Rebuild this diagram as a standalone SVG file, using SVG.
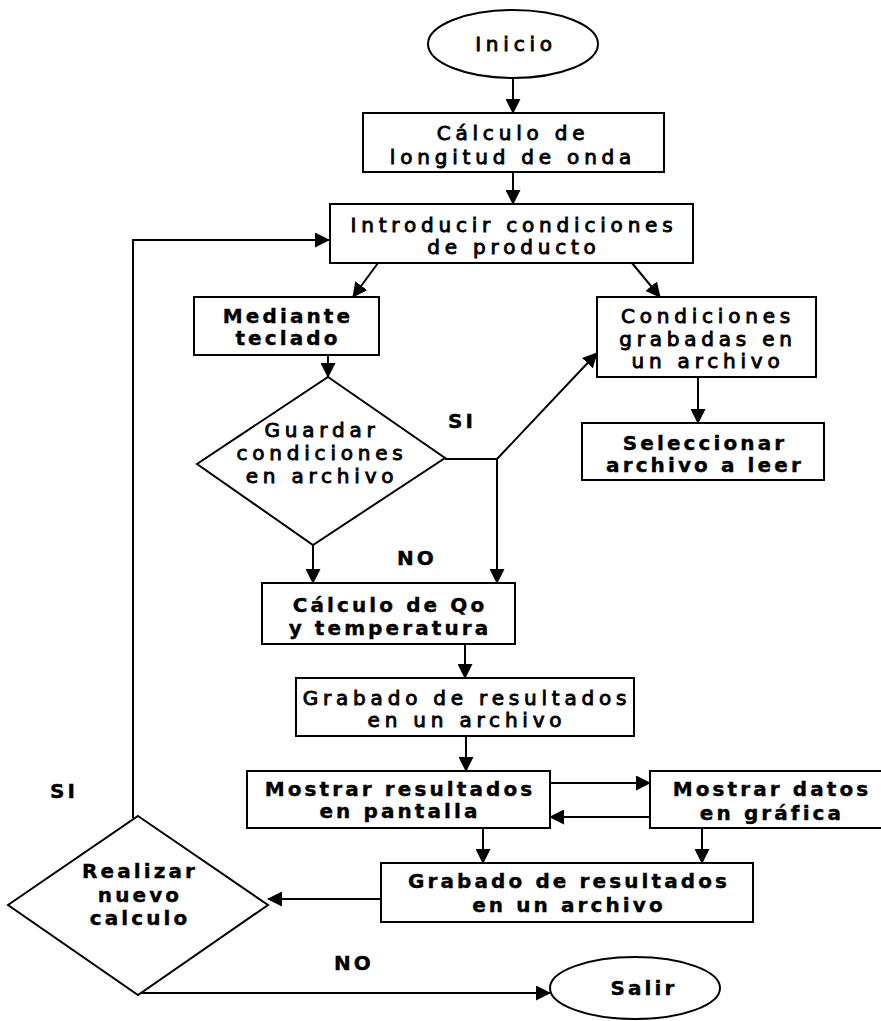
<svg xmlns="http://www.w3.org/2000/svg" width="881" height="1021" viewBox="0 0 881 1021">
  <style>
    .shape { fill: #fff; stroke: #000; stroke-width: 2; }
    .line { fill: none; stroke: #000; stroke-width: 2; }
    text { font-family: "DejaVu Sans", Verdana, sans-serif; font-size: 20px; fill: #000; text-anchor: middle; letter-spacing: 4.8px; }
    .b { font-weight: bold; letter-spacing: 3.1px; stroke: #000; stroke-width: 0.4; }
    .l { stroke: #000; stroke-width: 0.9; }
  </style>
  <defs>
    <marker id="arrow" markerUnits="userSpaceOnUse" markerWidth="15" markerHeight="15" refX="14" refY="7.5" orient="auto">
      <path d="M0,0 L15,7.5 L0,15 z" fill="#000"/>
    </marker>
  </defs>
  <rect width="881" height="1021" fill="#fff"/>

  <!-- connectors -->
  <g id="connectors" class="line" marker-end="url(#arrow)">
    <line x1="513" y1="78" x2="513" y2="113"/>
    <line x1="513" y1="172" x2="513" y2="204"/>
    <line x1="378" y1="263" x2="353" y2="297"/>
    <line x1="632" y1="263" x2="660" y2="297"/>
    <line x1="328" y1="355" x2="328" y2="377"/>
    <line x1="698" y1="377" x2="698" y2="423"/>
    <polyline points="445,459 497,459 597,353"/>
    <line x1="497" y1="459" x2="497" y2="583"/>
    <line x1="313" y1="545" x2="313" y2="583"/>
    <line x1="465" y1="644" x2="465" y2="678"/>
    <line x1="466" y1="736" x2="466" y2="771"/>
    <line x1="550" y1="783" x2="650" y2="783"/>
    <line x1="650" y1="817" x2="550" y2="817"/>
    <line x1="483" y1="828" x2="483" y2="863"/>
    <line x1="702" y1="828" x2="702" y2="863"/>
    <line x1="381" y1="899" x2="268" y2="899"/>
    <polyline points="133,818 133,240 329,240"/>
    <polyline points="140,993 550,993"/>
  </g>

  <g id="inicio">
    <ellipse class="shape" cx="513" cy="44" rx="85" ry="34"/>
    <text x="516" y="51" class="l">Inicio</text>
  </g>

  <g id="calculo-longitud">
    <rect class="shape" x="363" y="113" width="301" height="59"/>
    <text x="513" y="140" class="l">Cálculo de</text>
    <text x="513" y="164" class="l">longitud de onda</text>
  </g>

  <g id="introducir">
    <rect class="shape" x="330" y="204" width="363" height="59"/>
    <text x="514" y="232" class="l">Introducir condiciones</text>
    <text x="514" y="254" class="l">de producto</text>
  </g>

  <g id="mediante">
    <rect class="shape" x="194" y="297" width="185" height="58"/>
    <text x="288" y="323" class="b">Mediante</text>
    <text x="288" y="345" class="b">teclado</text>
  </g>

  <g id="guardar">
    <polygon class="shape" points="328,377 445,458 313,545 197,464"/>
    <text x="322" y="437" class="l">Guardar</text>
    <text x="322" y="460" class="l">condiciones</text>
    <text x="322" y="483" class="l">en  archivo</text>
  </g>

  <g id="condiciones-grabadas">
    <rect class="shape" x="597" y="297" width="219" height="80"/>
    <text x="708" y="323" class="l">Condiciones</text>
    <text x="708" y="346" class="l">grabadas en</text>
    <text x="708" y="368" class="l">un archivo</text>
  </g>

  <g id="seleccionar">
    <rect class="shape" x="582" y="423" width="242" height="57"/>
    <text x="705" y="450" class="b">Seleccionar</text>
    <text x="705" y="472" class="b">archivo a leer</text>
  </g>

  <g id="calculo-qo">
    <rect class="shape" x="262" y="583" width="253" height="61"/>
    <text x="390" y="612" class="b">Cálculo de Qo</text>
    <text x="390" y="635" class="b">y temperatura</text>
  </g>

  <g id="grabado-1">
    <rect class="shape" x="296" y="678" width="338" height="58"/>
    <text x="467" y="705" class="l">Grabado de resultados</text>
    <text x="467" y="727" class="l">en un archivo</text>
  </g>

  <g id="mostrar-resultados">
    <rect class="shape" x="247" y="771" width="303" height="57"/>
    <text x="400" y="796" class="b">Mostrar resultados</text>
    <text x="400" y="818" class="b">en pantalla</text>
  </g>

  <g id="mostrar-datos">
    <rect class="shape" x="650" y="771" width="240" height="57"/>
    <text x="772" y="796" class="b">Mostrar datos</text>
    <text x="772" y="820" class="b">en gráfica</text>
  </g>

  <g id="grabado-2">
    <rect class="shape" x="381" y="863" width="372" height="59"/>
    <text x="569" y="888" class="b">Grabado de resultados</text>
    <text x="569" y="912" class="b">en un archivo</text>
  </g>

  <g id="realizar">
    <polygon class="shape" points="138,816 268,905 138,995 8,905"/>
    <text x="140" y="878" class="b">Realizar</text>
    <text x="140" y="902" class="b">nuevo</text>
    <text x="140" y="925" class="b">calculo</text>
  </g>

  <g id="salir">
    <ellipse class="shape" cx="635" cy="988" rx="85" ry="31"/>
    <text x="644" y="995" class="b">Salir</text>
  </g>

  <g id="labels">
    <text x="462" y="428" class="b">SI</text>
    <text x="417" y="565" class="b">NO</text>
    <text x="64" y="798" class="b">SI</text>
    <text x="354" y="970" class="b">NO</text>
  </g>
</svg>
